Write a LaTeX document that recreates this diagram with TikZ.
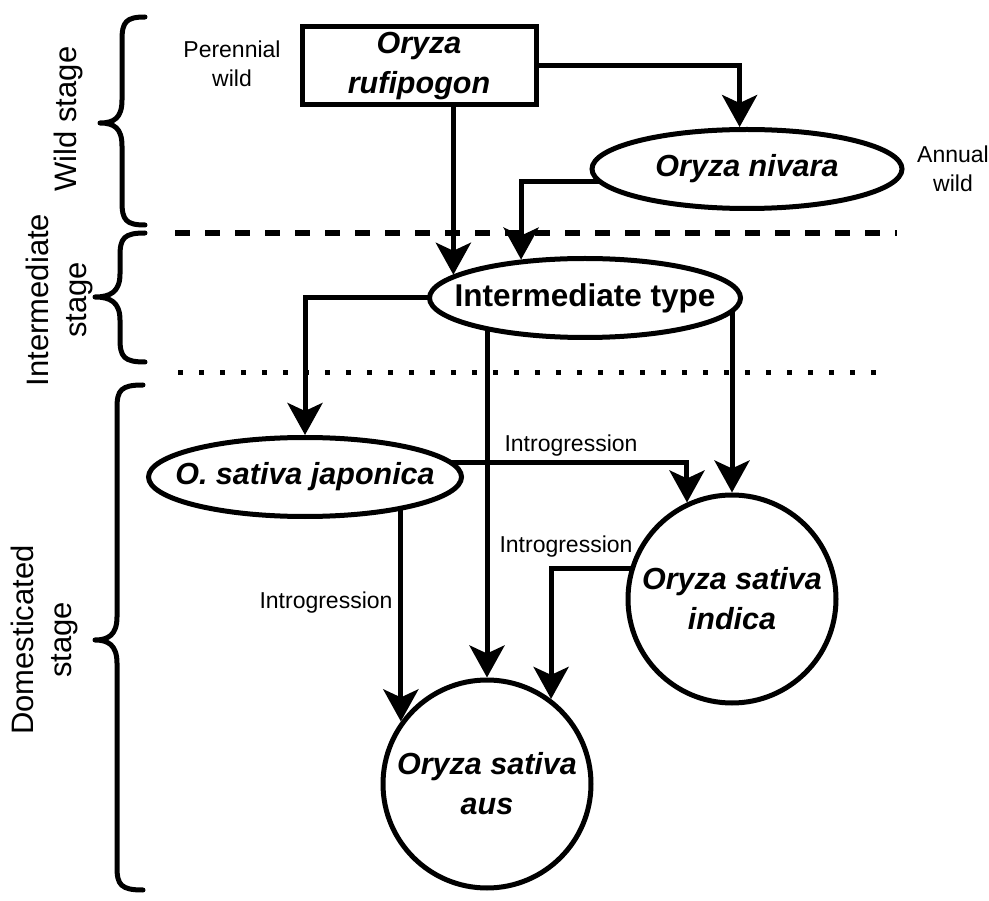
\documentclass[tikz,border=0pt]{standalone}
\usepackage{fontspec}
\setmainfont{Liberation Sans}
\usetikzlibrary{arrows.meta,backgrounds,shapes.geometric}
\begin{document}
\begin{tikzpicture}[x=1pt,y=-1pt,
  shp/.style={draw,line width=5pt,fill=white,inner sep=0pt,font=\fontsize{30.5}{40}\selectfont\bfseries\itshape},
  rectnode/.style={shp,rectangle,minimum width=234pt,minimum height=78pt,align=center},
  ellnode/.style={shp,ellipse,minimum width=#1,minimum height=79pt},
  circnode/.style={shp,circle,minimum size=208pt,align=center},
  arr/.style={line width=5pt,-{Stealth[length=32pt,width=35pt,inset=8pt]}},
  lab/.style={font=\fontsize{23}{29}\selectfont,align=center,inner sep=0pt},
  stagelab/.style={font=\fontsize{31}{38}\selectfont,align=center,rotate=90,inner sep=0pt},
  bracel/.style={line width=5pt,line cap=round,line join=round},
  sepdash/.style={line width=5.5pt,dash pattern=on 15pt off 15pt},
  sepdot/.style={line width=5pt,dash pattern=on 5pt off 16pt}]
\useasboundingbox (0,0) rectangle (989,901);

% nodes
\node[rectnode] (ruf) at (419,66) {Oryza\\rufipogon};
\node[ellnode=310pt] (niv) at (747,169) {\makebox[0pt][c]{Oryza nivara}};
\node[ellnode=311pt] (inter) at (585,298) {\makebox[0pt][c]{\upshape\fontsize{31.5}{40}\selectfont Intermediate type}};
\node[ellnode=313pt] (jap) at (305,477) {\makebox[0pt][c]{O. sativa japonica}};
\node[circnode] (ind) at (732,599) {Oryza sativa\\indica};
\node[circnode] (aus) at (487,784) {Oryza sativa\\aus};

% side labels
\node[lab] (per) at (232,64) {Perennial\\wild};
\node[lab] (ann) at (953,169) {Annual\\wild};
\node[lab] (i1) at (571,446) {Introgression};
\node[lab] (i2) at (566,547) {Introgression};
\node[lab] (i3) at (326,603) {Introgression};

% stage labels
\node[stagelab] (sw) at (68,119) {Wild stage};
\node[stagelab] (si) at (59,300) {Intermediate\\stage};
\node[stagelab] (sd) at (44,640) {Domesticated\\stage};

% braces
\draw[bracel] (145,17) .. controls (126,17) and (122,22) .. (122,40) -- (122,100)
  .. controls (122,118) and (114,123) .. (100,123)
  .. controls (114,123) and (122,128) .. (122,146) -- (122,202)
  .. controls (122,220) and (126,225) .. (145,225);
\draw[bracel] (145,233) .. controls (124,233) and (120,238) .. (120,256) -- (120,274)
  .. controls (120,292) and (110,297) .. (95,297)
  .. controls (110,297) and (120,302) .. (120,320) -- (120,339)
  .. controls (120,357) and (124,362) .. (145,362);
\draw[bracel] (143,385) .. controls (121,385) and (117,390) .. (117,408) -- (117,617)
  .. controls (117,635) and (108,640) .. (95,640)
  .. controls (108,640) and (117,645) .. (117,663) -- (117,867)
  .. controls (117,885) and (121,890) .. (143,890);

% separators
\draw[sepdash] (175,233) -- (897,233);
\draw[sepdot] (178,373) -- (885,373);

% connectors
\coordinate (yN) at (0,182);
\coordinate (yJ) at (0,463);
\coordinate (yI) at (0,568);
\begin{pgfonlayer}{background}
\draw[arr] (ruf.center) -| (niv.100);
\draw[arr] (ruf.center -| inter.170.5) -- (inter.170.5);
\draw[arr] (niv.center |- yN) -| (inter.149.2);
\draw[arr] (inter.center) -| (jap.north);
\draw[arr] (inter.center -| aus.north) -- (aus.north);
\draw[arr] (inter.center -| ind.north) -- (ind.north);
\draw[arr] (jap.center |- yJ) -| (ind.115.6);
\draw[arr] (ind.center |- yI) -| (aus.53.7);
\draw[arr] (jap.center -| aus.144.6) -- (aus.144.6);
\end{pgfonlayer}
\end{tikzpicture}
\end{document}
